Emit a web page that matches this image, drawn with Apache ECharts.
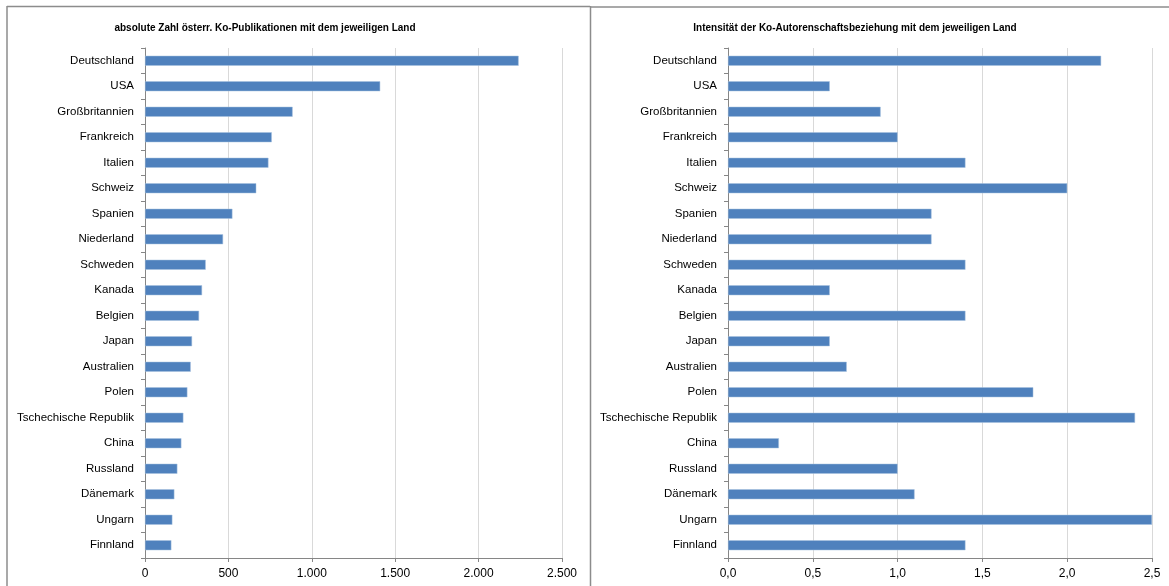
<!DOCTYPE html>
<html>
<head>
<meta charset="utf-8">
<script src="https://cdn.jsdelivr.net/npm/echarts@6/dist/echarts.min.js"></script>
<style>
html,body{margin:0;padding:0;background:#fff;}
#c{width:1169px;height:586px;}
</style>
</head>
<body>
<div id="c"></div>
<script>
const countries = ["Deutschland","USA","Großbritannien","Frankreich","Italien","Schweiz","Spanien","Niederland","Schweden","Kanada","Belgien","Japan","Australien","Polen","Tschechische Republik","China","Russland","Dänemark","Ungarn","Finnland"];
const absoluteCount = [2240,1410,885,760,740,667,524,468,364,342,324,282,274,254,230,218,194,176,164,158];
const intensity = [2.2,0.6,0.9,1.0,1.4,2.0,1.2,1.2,1.4,0.6,1.4,0.6,0.7,1.8,2.4,0.3,1.0,1.1,2.5,1.4];
const titleLeft = "absolute Zahl österr. Ko-Publikationen mit dem jeweiligen Land";
const titleRight = "Intensität der Ko-Autorenschaftsbeziehung mit dem jeweiligen Land";

const FONT = "Liberation Sans, Arial, sans-serif";
const barColor = "#4F81BD";
const gridColor = "#D9D9D9";
const axisColor = "#868686";

function catAxis(gi){
  return {
    type:'category', gridIndex:gi, data:countries, inverse:true,
    axisLine:{show:true, lineStyle:{color:axisColor}},
    axisTick:{show:true, length:4, lineStyle:{color:axisColor}},
    axisLabel:{color:'#000', fontFamily:FONT, fontSize:11.5, margin:11},
    splitLine:{show:false}
  };
}
function valAxis(gi, max, interval, fmt){
  return {
    type:'value', gridIndex:gi, min:0, max:max, interval:interval,
    axisLine:{show:true, lineStyle:{color:axisColor}},
    axisTick:{show:true, length:4, lineStyle:{color:axisColor}},
    axisLabel:{color:'#000', fontFamily:FONT, fontSize:12, margin:10, formatter:fmt},
    splitLine:{show:true, lineStyle:{color:gridColor, width:1}}
  };
}
const chart = echarts.init(document.getElementById('c'), null, {renderer:'canvas'});
chart.setOption({
  animation:false,
  backgroundColor:'#fff',
  title:[
    {text:titleLeft, left:260, top:18, textAlign:'center', textStyle:{fontFamily:FONT, fontSize:10, fontWeight:'bold', color:'#000'}},
    {text:titleRight, left:850, top:18, textAlign:'center', textStyle:{fontFamily:FONT, fontSize:10, fontWeight:'bold', color:'#000'}}
  ],
  graphic:[
    {type:'line', shape:{x1:7,y1:6.5,x2:590,y2:6.5}, style:{stroke:'#8c8c8c', lineWidth:1.5}},
    {type:'line', shape:{x1:7,y1:6,x2:7,y2:600}, style:{stroke:'#8c8c8c', lineWidth:1.5}},
    {type:'line', shape:{x1:590.5,y1:6,x2:590.5,y2:600}, style:{stroke:'#8c8c8c', lineWidth:1.5}},
    {type:'line', shape:{x1:590,y1:7,x2:1175,y2:7}, style:{stroke:'#8c8c8c', lineWidth:1.5}}
  ],
  grid:[
    {left:145, top:48, width:417, height:510},
    {left:728, top:48, width:424, height:510}
  ],
  xAxis:[
    valAxis(0, 2500, 500, v => v===0 ? '0' : v.toLocaleString('de-DE')),
    valAxis(1, 2.5, 0.5, v => v.toFixed(1).replace('.', ','))
  ],
  yAxis:[catAxis(0), catAxis(1)],
  series:[
    {type:'bar', xAxisIndex:0, yAxisIndex:0, data:absoluteCount, barWidth:10,
     itemStyle:{color:barColor, borderColor:'#A7C0DE', borderWidth:0.5}},
    {type:'bar', xAxisIndex:1, yAxisIndex:1, data:intensity, barWidth:10,
     itemStyle:{color:barColor, borderColor:'#A7C0DE', borderWidth:0.5}}
  ]
});
</script>
</body>
</html>
